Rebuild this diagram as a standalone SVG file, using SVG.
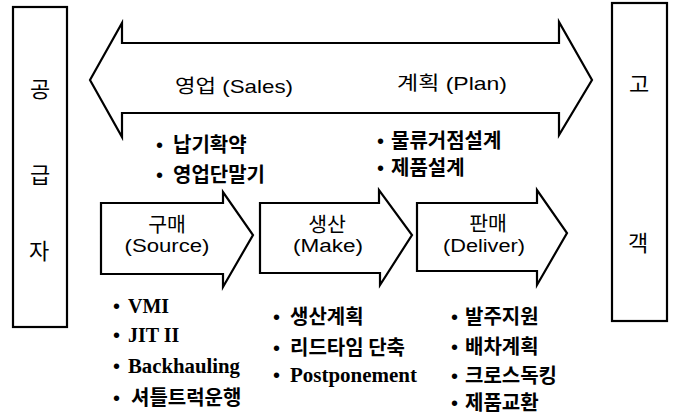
<svg xmlns="http://www.w3.org/2000/svg" width="674" height="418" viewBox="0 0 674 418">
<style>
.sh{fill:#fff;stroke:#000;stroke-width:2.2;stroke-linejoin:miter}
.k{font-family:"Liberation Sans","Noto Sans CJK KR",sans-serif;font-size:19px;fill:#000}
.side{font-family:"Noto Sans CJK KR",sans-serif;font-size:22px;fill:#000;text-anchor:middle}
.lab{font-family:"Liberation Sans","Noto Sans CJK KR",sans-serif;font-size:18px;fill:#000;text-anchor:middle}
.lk{font-family:"Noto Sans CJK KR",sans-serif;font-size:20.5px;fill:#000;text-anchor:middle}
.bk{font-family:"Noto Sans CJK KR",sans-serif;font-size:20px;font-weight:bold;fill:#000}
.bl{font-family:"Liberation Serif","Noto Sans CJK KR",serif;font-size:20px;font-weight:bold;fill:#000}
.dot{font-family:"Liberation Sans",sans-serif;font-size:20px;fill:#000}
</style>
<rect width="674" height="418" fill="#fff"/>
<g id="supplier">
<rect class="sh" x="13" y="7" width="54" height="320"/>
<text class="side" x="40" y="97">공</text>
<text class="side" x="40" y="183">급</text>
<text class="side" x="39" y="259">자</text>
</g>
<g id="customer">
<rect class="sh" x="612" y="3" width="55" height="318"/>
<text class="side" x="639" y="92">고</text>
<text class="side" x="638" y="251">객</text>
</g>
<g id="connectors">
<path id="plan-arrow" class="sh" d="M90,80 L122,23 L122,43 L559,43 L559,22 L592,80 L559,135 L559,113 L122,113 L122,137 Z"/>
</g>
<g id="sales-plan-labels">
<text class="k" x="175" y="93" textLength="118" lengthAdjust="spacingAndGlyphs">영업 (Sales)</text>
<text class="k" x="397" y="90" textLength="110" lengthAdjust="spacingAndGlyphs">계획 (Plan)</text>
</g>
<g id="source">
<path class="sh" d="M101,203 L223,203 L223,192 L253,235 L223,287 L223,274 L101,274 Z"/>
<text class="lk" x="167" y="232">구매</text>
<text class="lab" x="167" y="252" textLength="85" lengthAdjust="spacingAndGlyphs">(Source)</text>
</g>
<g id="make">
<path class="sh" d="M260,203 L379,203 L379,190 L412,235 L380,285 L380,273 L260,273 Z"/>
<text class="lk" x="327" y="232">생산</text>
<text class="lab" x="328" y="252" textLength="70" lengthAdjust="spacingAndGlyphs">(Make)</text>
</g>
<g id="deliver">
<path class="sh" d="M417,203 L537,203 L537,190 L567,233 L537,285 L537,271 L417,271 Z"/>
<text class="lk" x="488" y="231">판매</text>
<text class="lab" x="484" y="252" textLength="82" lengthAdjust="spacingAndGlyphs">(Deliver)</text>
</g>
<g id="sales-items">
<text class="dot" x="156" y="152">•</text><text class="bk" x="173" y="152">납기확약</text>
<text class="dot" x="156" y="182">•</text><text class="bk" x="173" y="182">영업단말기</text>
</g>
<g id="plan-items">
<text class="dot" x="377" y="148">•</text><text class="bk" x="391" y="148">물류거점설계</text>
<text class="dot" x="377" y="175">•</text><text class="bk" x="391" y="175">제품설계</text>
</g>
<g id="source-items">
<text class="dot" x="113" y="313">•</text><text class="bl" x="128" y="313">VMI</text>
<text class="dot" x="113" y="342">•</text><text class="bl" x="128" y="342">JIT II</text>
<text class="dot" x="113" y="373">•</text><text class="bl" x="128" y="373" textLength="112" lengthAdjust="spacingAndGlyphs">Backhauling</text>
<text class="dot" x="113" y="405">•</text><text class="bk" x="131" y="405">셔틀트럭운행</text>
</g>
<g id="make-items">
<text class="dot" x="273" y="324">•</text><text class="bk" x="290" y="324">생산계획</text>
<text class="dot" x="273" y="355">•</text><text class="bk" x="290" y="355">리드타임 단축</text>
<text class="dot" x="273" y="382">•</text><text class="bl" x="290" y="382" textLength="127" lengthAdjust="spacingAndGlyphs">Postponement</text>
</g>
<g id="deliver-items">
<text class="dot" x="451" y="324">•</text><text class="bk" x="465" y="324">발주지원</text>
<text class="dot" x="451" y="354">•</text><text class="bk" x="465" y="354">배차계획</text>
<text class="dot" x="451" y="383">•</text><text class="bk" x="465" y="383">크로스독킹</text>
<text class="dot" x="451" y="410">•</text><text class="bk" x="465" y="410">제품교환</text>
</g>
</svg>
